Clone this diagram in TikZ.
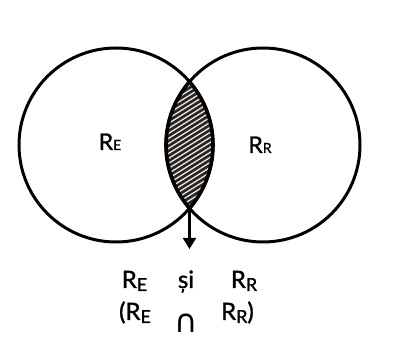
\documentclass[tikz,border=0pt]{standalone}
\usepackage{fontspec}
\setmainfont{Lato}[FakeBold=1.2,AutoFakeBold=1.2]
\newfontfamily\symfont{DejaVu Sans}
\usetikzlibrary{arrows.meta}
\newcommand{\subE}[1]{\raisebox{-3pt}{\fontsize{18}{20}\selectfont #1}}
\begin{document}
\begin{tikzpicture}[x=1pt,y=1pt,
  setcircle/.style={circle,draw,line width=3pt,minimum size=194pt,inner sep=0pt},
  inlabel/.style={font=\fontsize{23}{26}\selectfont\bfseries,inner sep=0pt,anchor=base},
  outlabel/.style={font=\fontsize{24}{27}\selectfont\bfseries,inner sep=0pt,anchor=base},
  arrowline/.style={line width=2.2pt,-{Triangle[width=13pt,length=11pt]}}]
\useasboundingbox (0,0) rectangle (399,340);
\coordinate (cE) at (116,195);
\coordinate (cR) at (263,195);
% lens
\begin{scope}
  \clip (cE) circle (97);
  \clip (cR) circle (97);
  \fill[black!85] (cR) circle (97);
  \foreach \i in {-30,-25,...,180}
    \draw[white!80!brown,line width=1.3pt] (150,\i+60) -- (230,\i+110);
\end{scope}
\node[setcircle] (E) at (cE) {};
\node[setcircle] (R) at (cR) {};
% lens outline thicker
\begin{scope}
  \clip (cE) circle (97);
  \draw[line width=3.6pt] (cR) circle (97);
\end{scope}
\begin{scope}
  \clip (cR) circle (97);
  \draw[line width=3.6pt] (cE) circle (97);
\end{scope}
\node[inlabel] (lE) at (110,190) {R{\fontsize{14}{16}\selectfont E}};
\node[inlabel] (lR) at (260,187) {R{\fontsize{14}{16}\selectfont R}};
\coordinate (bot) at (189.5,132);
\coordinate (tip) at (189.5,91);
\draw[arrowline] (bot) -- (tip);
\node[outlabel] (a1) at (134.5,52) {R\subE{E}};
\node[outlabel] (a2) at (186,52) {ș{}i};
\node[outlabel] (a3) at (244,52) {R\subE{R}};
\node[outlabel] (b1) at (135,20) {(R\subE{E}};
\node[outlabel] (b2) at (186,7) {{\symfont\mdseries\fontsize{32}{36}\selectfont ∩}};
\node[outlabel] (b3) at (237.5,20) {R\subE{R})};
\end{tikzpicture}
\end{document}
